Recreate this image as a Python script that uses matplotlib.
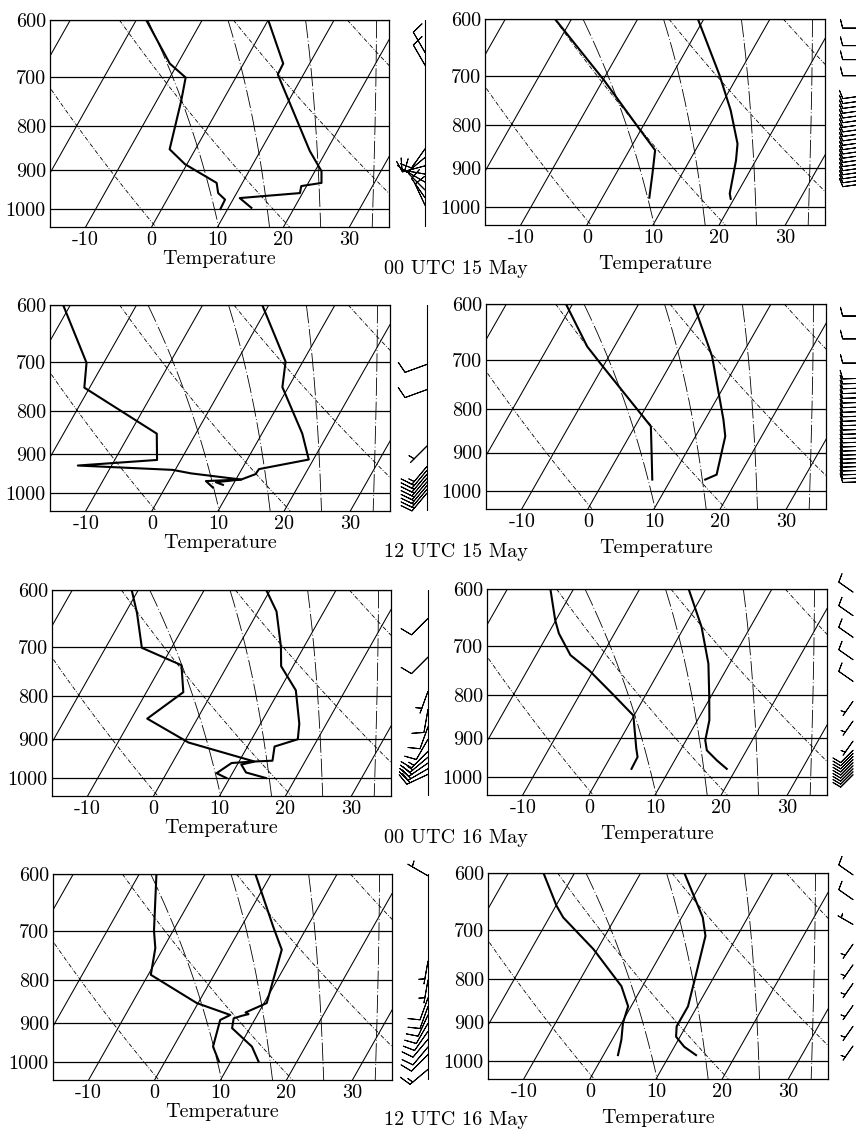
import numpy as np
import matplotlib.pyplot as plt
from matplotlib.ticker import NullLocator

plt.rcParams["font.family"] = "cmr10"
plt.rcParams["axes.unicode_minus"] = False
plt.rcParams["font.size"] = 14.5

# ---- sounding data: (pressure hPa, temperature C) -------------------------
# 00 UTC 15 May
a_temp = [(600, 0.0), (675, 6.0), (695, 6.1), (855, 17.5), (903, 21.0), (932, 22.0),
          (940, 19.2), (958, 19.6), (971, 10.9), (997, 13.5)]
a_dew = [(600, -18.5), (675, -11.2), (701, -7.6), (746, -6.3), (851, -3.9), (886, -0.3),
         (932, 6.1), (958, 7.2), (975, 8.8), (1000, 8.9)]
b_temp = [(600, -0.9), (699, 7.2), (769, 11.9), (842, 15.8), (881, 17.0), (964, 18.9), (978, 19.5)]
b_dew = [(600, -22.5), (708, -9.9), (800, -1.1), (857, 3.9), (913, 5.5), (975, 7.1)]
# 12 UTC 15 May
c_temp = [(600, -1.0), (700, 7.4), (750, 9.1), (851, 16.1), (913, 19.3), (937, 12.6),
          (950, 12.5), (964, 10.8), (968, 5.6), (985, 7.2)]
c_dew = [(600, -31.1), (702, -22.6), (751, -20.8), (851, -5.9), (914, -3.6), (928, -15.1),
         (939, -0.4), (948, 2.7), (964, 10.8), (971, 7.2), (978, 8.5)]
d_temp = [(600, -1.7), (692, 5.6), (823, 12.8), (861, 14.5), (956, 16.5), (969, 15.2)]
d_dew = [(600, -21.0), (674, -14.1), (710, -10.2), (838, 2.4), (901, 4.8), (969, 7.2)]
# 00 UTC 16 May
e_temp = [(600, -0.6), (636, 2.8), (700, 6.5), (738, 8.2), (788, 12.5), (863, 15.9), (900, 17.0),
          (918, 14.1), (954, 15.0), (956, 12.4), (964, 10.6), (985, 12.0), (1000, 15.5)]
e_dew = [(600, -21.0), (639, -18.2), (702, -14.5), (736, -7.0), (792, -4.4), (851, -7.6),
         (908, 0.7), (956, 12.3), (960, 9.0), (987, 7.6), (1000, 9.5)]
f_temp = [(600, -2.6), (665, 2.6), (735, 6.8), (800, 9.6), (857, 11.8), (905, 12.9),
          (930, 14.0), (956, 16.4), (978, 18.6)]
f_dew = [(600, -23.5), (653, -20.1), (677, -18.4), (718, -14.8), (748, -10.7), (797, -5.2),
         (846, -0.1), (926, 3.2), (947, 4.1), (978, 4.2)]
# 12 UTC 16 May
g_temp = [(600, -2.4), (692, 4.8), (737, 8.1), (852, 10.4), (874, 8.0), (878, 8.6), (882, 7.7),
          (888, 6.7), (912, 7.3), (959, 11.9), (999, 14.2)]
g_dew = [(600, -17.4), (700, -12.9), (734, -11.2), (789, -9.6), (852, -0.2), (880, 5.9),
         (892, 4.8), (959, 6.0), (999, 8.2)]
h_temp = [(600, -3.4), (677, 3.2), (712, 5.2), (787, 7.0), (862, 8.6), (910, 8.6), (936, 9.4),
          (962, 11.5), (984, 14.0)]
h_dew = [(600, -24.7), (656, -19.9), (677, -17.9), (738, -10.6), (816, -3.2), (862, -0.45),
         (902, 0.2), (944, 1.4), (984, 2.2)]

# ---- winds: (pressure hPa, direction deg, speed kt) -----------------------
a_wind = [(655, 330, 10), (678, 330, 10), (850, 215, 10), (870, 230, 10), (890, 255, 10),
          (910, 280, 10), (930, 300, 10), (950, 315, 10), (970, 325, 10), (990, 335, 10)]
b_wind = [(615, 270, 10), (645, 270, 10), (670, 270, 10), (700, 270, 10)] + \
         [(p, 262, 10) for p in range(740, 945, 10)]
c_wind = [(705, 250, 10), (755, 250, 10), (880, 225, 5)] + \
         [(p, 220, 15) for p in range(930, 1001, 10)]
d_wind = [(620, 270, 10), (660, 270, 10), (705, 270, 10)] + \
         [(p, 268, 10) for p in range(735, 976, 10)]
e_wind = [(648, 225, 10), (720, 225, 10), (790, 200, 5), (830, 190, 10), (870, 200, 10),
          (900, 210, 10), (930, 225, 15), (945, 230, 15), (960, 235, 20), (975, 240, 20),
          (990, 245, 20)]
f_wind = [(605, 305, 10), (645, 305, 10), (684, 305, 10), (727, 305, 10), (771, 305, 10),
          (814, 215, 5), (859, 215, 5), (907, 215, 5)] + \
         [(p, 225, 10) for p in range(930, 1001, 8)]
g_wind = [(603, 300, 5), (760, 190, 5), (800, 190, 5), (840, 200, 10), (860, 200, 10),
          (880, 205, 10), (900, 210, 10), (920, 215, 10), (940, 220, 10), (960, 220, 10),
          (980, 225, 10), (1020, 230, 15)]
h_wind = [(603, 305, 10), (645, 305, 10), (690, 300, 5), (728, 215, 5), (770, 215, 5),
          (810, 215, 5), (860, 215, 5), (910, 215, 5), (960, 215, 5)]

dates = ["00 UTC 15 May", "12 UTC 15 May", "00 UTC 16 May", "12 UTC 16 May"]
soundings = [(a_temp, a_dew, a_wind), (b_temp, b_dew, b_wind), (c_temp, c_dew, c_wind),
             (d_temp, d_dew, d_wind), (e_temp, e_dew, e_wind), (f_temp, f_dew, f_wind),
             (g_temp, g_dew, g_wind), (h_temp, h_dew, h_wind)]

P_TOP, P_BOT = 600, 1050
SKEW = 31.6  # deg C per ln(p)


def skew_x(t, p):
    return np.asarray(t, float) + SKEW * np.log(P_BOT / np.asarray(p, float))


def moist_adiabat(tw):
    # pseudo-adiabat through tw (C) at 1000 hPa
    rd, cp, lv, eps = 287.04, 1005.7, 2.501e6, 0.622

    def rate(t, p):
        es = 6.112 * np.exp(17.67 * (t - 273.15) / (t - 29.65))
        rs = eps * es / (p - es)
        return (rd * t + lv * rs) / p / (cp + lv ** 2 * rs * eps / (rd * t ** 2))

    out = []
    for dp, pend in ((-2.0, P_TOP), (2.0, P_BOT)):
        t, p = tw + 273.15, 1000.0
        pts = [(p, t)]
        while (p > pend) if dp < 0 else (p < pend):
            k1 = rate(t, p)
            k2 = rate(t + dp * k1, p + dp)
            t += dp * 0.5 * (k1 + k2)
            p += dp
            pts.append((p, t))
        out = pts[::-1] + out if dp < 0 else out + pts[1:]
    arr = np.array(out)
    return arr[:, 0], arr[:, 1] - 273.15


W, H = 856, 1135
fig = plt.figure(figsize=(W / 100, H / 100), dpi=100)

# panel frames in pixels: (left, top, right, bottom)
left_boxes = [(50, 20, 389, 227), (50, 305, 390, 511), (52, 590, 391, 796), (53, 874, 392, 1080)]
right_boxes = [(485, 19, 825, 225), (486, 304, 826, 509), (487, 589, 827, 795), (488, 873, 828, 1079)]
left_lines = [425, 427, 428, 428]
right_lines = [860, 860, 853, 853]
title_y = [269, 552, 838, 1120]


def px_axes(l, t, r, b):
    return fig.add_axes([l / W, 1 - b / H, (r - l) / W, (b - t) / H])


pgrid = np.linspace(P_TOP, P_BOT, 200)
moist = [moist_adiabat(tw) for tw in (8, 16, 24, 32)]


def draw_skewt(ax, temp, dew, xlabel_pad):
    for t in range(-60, 50, 10):
        ax.plot(skew_x([t, t], [P_BOT, P_TOP]), [P_BOT, P_TOP], color="k", lw=0.75)
    for th in range(250, 351, 20):
        tt = th * (pgrid / 1000.0) ** 0.286 - 273.15
        ax.plot(skew_x(tt, pgrid), pgrid, color="k", lw=0.6, ls=(0, (5, 2, 1, 2)))
    for pm, tm in moist:
        ax.plot(skew_x(tm, pm), pm, color="k", lw=0.6, ls=(0, (22, 3, 1, 3)))
    for p in (600, 700, 800, 900, 1000):
        ax.axhline(p, color="k", lw=0.9)
    for prof in (temp, dew):
        p, t = zip(*prof)
        ax.plot(skew_x(t, p), p, color="k", lw=1.5)
    ax.set_yscale("log")
    ax.set_ylim(P_BOT, P_TOP)
    ax.set_xlim(-15.4, 36.0)
    ax.set_yticks([600, 700, 800, 900, 1000])
    ax.set_yticklabels(["600", "700", "800", "900", "1000"])
    ax.yaxis.set_minor_locator(NullLocator())
    ax.set_xticks([-10, 0, 10, 20, 30])
    ax.set_xticklabels(["-10", "0", "10", "20", "30"])
    ax.tick_params(length=0, pad=3)
    ax.set_xlabel("Temperature", labelpad=xlabel_pad)
    for s in ax.spines.values():
        s.set_linewidth(0.9)


def draw_winds(ax, wind, staff, length):
    p, d, s = (np.array(v, float) for v in zip(*wind))
    u = -s * np.sin(np.radians(d))
    v = -s * np.cos(np.radians(d))
    ax.barbs(np.zeros_like(p), p, u, v, length=length, lw=0.7, clip_on=False,
             sizes=dict(height=0.5, spacing=0.15))
    if staff:
        ax.plot([0, 0], [P_TOP, P_BOT], color="k", lw=0.8)
    ax.set_yscale("log")
    ax.set_ylim(P_BOT, P_TOP)
    ax.set_xlim(-30, 5)
    ax.axis("off")


for r in range(4):
    temp, dew, wind = soundings[2 * r]
    l, t, rr, b = left_boxes[r]
    draw_skewt(px_axes(l, t, rr, b), temp, dew, 1)
    x0 = left_lines[r]
    draw_winds(px_axes(x0 - 30, t, x0 + 5, b), wind, True, 5.8)

    temp, dew, wind = soundings[2 * r + 1]
    l, t, rr, b = right_boxes[r]
    draw_skewt(px_axes(l, t, rr, b), temp, dew, 6)
    x0 = right_lines[r]
    draw_winds(px_axes(x0 - 30, t, x0 + 5, b), wind, False, 5.0)

    fig.text(456 / W, 1 - title_y[r] / H, dates[r], ha="center", va="center")

fig.savefig("out.png", dpi=100)
